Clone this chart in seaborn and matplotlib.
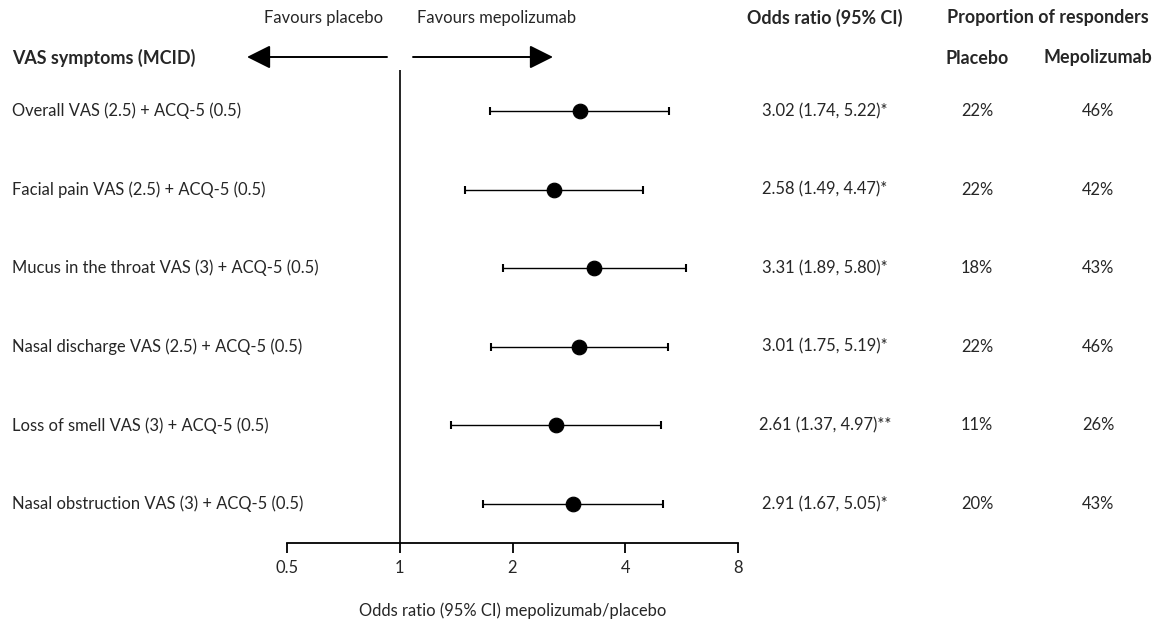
import matplotlib
matplotlib.use("Agg")
import matplotlib.pyplot as plt
import matplotlib.transforms as mtransforms
import seaborn as sns
import pandas as pd
import numpy as np

outcomes = [
    "Overall VAS (2.5) + ACQ-5 (0.5)",
    "Facial pain VAS (2.5) + ACQ-5 (0.5)",
    "Mucus in the throat VAS (3) + ACQ-5 (0.5)",
    "Nasal discharge VAS (2.5) + ACQ-5 (0.5)",
    "Loss of smell VAS (3) + ACQ-5 (0.5)",
    "Nasal obstruction VAS (3) + ACQ-5 (0.5)",
]
odds_ratio = [3.02, 2.58, 3.31, 3.01, 2.61, 2.91]
ci_low = [1.74, 1.49, 1.89, 1.75, 1.37, 1.67]
ci_high = [5.22, 4.47, 5.80, 5.19, 4.97, 5.05]
signif = ["*", "*", "*", "*", "**", "*"]
placebo_pct = [22, 22, 18, 22, 11, 20]
mepo_pct = [46, 42, 43, 46, 26, 43]
x_ticks = [0.5, 1, 2, 4, 8]
x_ticklabels = ["0.5", "1", "2", "4", "8"]

df = pd.DataFrame({"outcome": outcomes, "or": odds_ratio, "lo": ci_low, "hi": ci_high,
                   "row": np.arange(len(outcomes))})

sns.set_style("white")
plt.rcParams["font.family"] = ["Lato", "DejaVu Sans"]
FS = 11.9
FSB = 12.9

W, H = 1158, 620
fig = plt.figure(figsize=(W / 100, H / 100), dpi=100)

def fx(px):
    return px / W

def fy(py):
    return 1 - py / H

ax_left, ax_right, ax_top, ax_bot = 287, 738, 70, 543
ax = fig.add_axes([fx(ax_left), fy(ax_bot), fx(ax_right - ax_left), (ax_bot - ax_top) / H])
ax.set_xscale("log", base=2)
ax.set_xlim(0.5, 8)
spacing = 78.6
ax.set_ylim(5 + 39 / spacing, -41 / spacing)

ax.axvline(1, color="black", lw=1.2, zorder=1)
ax.errorbar(df["or"], df["row"], xerr=[df["or"] - df["lo"], df["hi"] - df["or"]],
            fmt="none", ecolor="black", elinewidth=1.0, capsize=2.6, capthick=1.5, zorder=2)
sns.scatterplot(data=df, x="or", y="row", ax=ax, color="black", s=110, edgecolor="black",
                zorder=3, legend=False)

for s in ["top", "left", "right"]:
    ax.spines[s].set_visible(False)
ax.spines["bottom"].set_color("black")
ax.spines["bottom"].set_linewidth(1.3)
ax.set_xticks(x_ticks)
ax.set_xticklabels(x_ticklabels, fontsize=FS)
ax.minorticks_off()
ax.tick_params(axis="x", direction="out", length=7, width=1.3, color="black", pad=5, bottom=True)
ax.set_yticks([])
ax.set_ylabel("")
ax.set_xlabel("Odds ratio (95% CI) mepolizumab/placebo", fontsize=FS)
ax.xaxis.set_label_coords(0.5, -(616 - ax_bot) / (ax_bot - ax_top))
ax.xaxis.label.set_va("baseline")

tr = mtransforms.blended_transform_factory(fig.transFigure, ax.transData)
for i in range(len(outcomes)):
    ax.text(fx(12), i, outcomes[i], transform=tr, ha="left", va="center", fontsize=FS)
    ax.text(fx(825), i, f"{odds_ratio[i]:.2f} ({ci_low[i]:.2f}, {ci_high[i]:.2f}){signif[i]}",
            transform=tr, ha="center", va="center", fontsize=FS)
    ax.text(fx(977), i, f"{placebo_pct[i]}%", transform=tr, ha="center", va="center", fontsize=FS)
    ax.text(fx(1098), i, f"{mepo_pct[i]}%", transform=tr, ha="center", va="center", fontsize=FS)

row_h = 58
fig.text(fx(12), fy(row_h), "VAS symptoms (MCID)", ha="left", va="center", fontsize=FSB, fontweight="bold")
fig.text(fx(977), fy(row_h), "Placebo", ha="center", va="center", fontsize=FSB, fontweight="bold")
fig.text(fx(1098), fy(row_h), "Mepolizumab", ha="center", va="center", fontsize=FSB, fontweight="bold")
fig.text(fx(825), fy(18), "Odds ratio (95% CI)", ha="center", va="center", fontsize=FSB, fontweight="bold")
fig.text(fx(1048), fy(18), "Proportion of responders", ha="center", va="center", fontsize=FSB, fontweight="bold")
fig.text(fx(324), fy(18), "Favours placebo", ha="center", va="center", fontsize=FS)
fig.text(fx(497), fy(18), "Favours mepolizumab", ha="center", va="center", fontsize=FS)

arrow_kw = dict(arrowstyle="-|>,head_length=1.2,head_width=0.6", color="black", lw=1.4,
                shrinkA=0, shrinkB=0)
arrow_y = 57
fig.patches.append(matplotlib.patches.FancyArrowPatch((fx(387), fy(arrow_y)), (fx(247), fy(arrow_y)),
                   transform=fig.transFigure, mutation_scale=12, **arrow_kw))
fig.patches.append(matplotlib.patches.FancyArrowPatch((fx(413), fy(arrow_y)), (fx(553), fy(arrow_y)),
                   transform=fig.transFigure, mutation_scale=12, **arrow_kw))

fig.savefig("out.png", dpi=100)
